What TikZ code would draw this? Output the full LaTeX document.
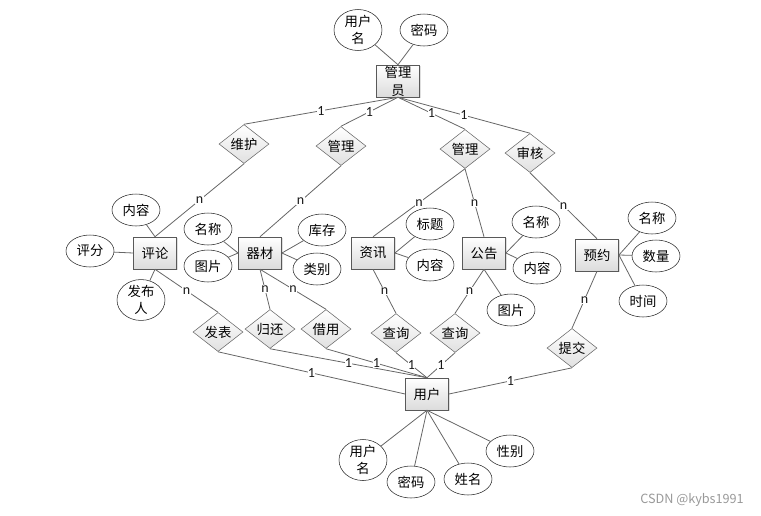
\documentclass[tikz,border=0pt]{standalone}
\usepackage{fontspec}
\setmainfont{Noto Sans CJK SC}
\newfontfamily\numfont{Carlito}
\usetikzlibrary{shapes.geometric,shadows,positioning}

\begin{document}
\begin{tikzpicture}[x=0.75pt, y=-0.75pt,
  entity/.style={rectangle, draw=black!65, top color=white, bottom color=black!14,
                 drop shadow={shadow xshift=1pt, shadow yshift=-1pt, opacity=0.25},
                 minimum width=32.5pt, minimum height=24pt, inner sep=0pt,
                 align=center, font=\fontsize{10}{13.5}\selectfont},
  attr/.style={ellipse, draw=black!85, fill=white, minimum width=36pt,
               minimum height=24pt, inner sep=0pt, align=center,
               font=\fontsize{10}{12.5}\selectfont},
  rel/.style={diamond, draw=black!60, top color=white, bottom color=black!12,
              minimum width=37.5pt, minimum height=22.5pt, inner sep=0pt,
              font=\fontsize{10}{12}\selectfont},
  link/.style={black!60, line width=0.6pt},
  card/.style={fill=white, inner sep=0.3pt, text=black!90,
               font=\numfont\fontsize{10.5}{11}\selectfont}
]
  \useasboundingbox (0,0) rectangle (761,515);

  % entities
  \node[entity] (gly) at (398,81)  {管理\\员};
  \node[entity] (pl)  at (155,253) {评论};
  \node[entity] (qc)  at (260,253) {器材};
  \node[entity] (zx)  at (373,253) {资讯};
  \node[entity] (gg)  at (484,253) {公告};
  \node[entity] (yy)  at (597,255) {预约};
  \node[entity] (yh)  at (427,394) {用户};

  % relations
  \node[rel] (wh)  at (244,144) {维护};
  \node[rel] (glA) at (341,146) {管理};
  \node[rel] (glB) at (465,149) {管理};
  \node[rel] (sh)  at (530,153) {审核};
  \node[rel] (fb)  at (218,332) {发表};
  \node[rel] (gh)  at (270,329) {归还};
  \node[rel] (jy)  at (326,329) {借用};
  \node[rel] (cxA) at (396,333) {查询};
  \node[rel] (cxB) at (455,333) {查询};
  \node[rel] (tj)  at (572,348) {提交};

  % attributes
  \node[attr] (gly-yhm) at (358,30)  {用户\\名};
  \node[attr] (gly-mm)  at (424,30)  {密码};
  \node[attr] (pl-nr)   at (136,210) {内容};
  \node[attr] (pl-pf)   at (90,251)  {评分};
  \node[attr] (pl-fbr)  at (141,300) {发布\\人};
  \node[attr] (qc-mc)   at (208,229) {名称};
  \node[attr] (qc-tp)   at (208,266) {图片};
  \node[attr] (qc-kc)   at (322,230) {库存};
  \node[attr] (qc-lb)   at (317,269) {类别};
  \node[attr] (zx-bt)   at (430,224) {标题};
  \node[attr] (zx-nr)   at (430,265) {内容};
  \node[attr] (gg-mc)   at (536,222) {名称};
  \node[attr] (gg-nr)   at (537,268) {内容};
  \node[attr] (gg-tp)   at (511,310) {图片};
  \node[attr] (yy-mc)   at (652,218) {名称};
  \node[attr] (yy-sl)   at (656,256) {数量};
  \node[attr] (yy-sj)   at (643,301) {时间};
  \node[attr] (yh-yhm)  at (363,460) {用户\\名};
  \node[attr] (yh-mm)   at (411,482) {密码};
  \node[attr] (yh-xm)   at (468,479) {姓名};
  \node[attr] (yh-xb)   at (510,451) {性别};

  \foreach \a/\e in {gly-yhm/gly.north, gly-mm/gly.north,
                     pl-nr/pl.north, pl-pf/pl.west, pl-fbr/pl.south,
                     qc-mc/qc.west, qc-tp/qc.west, qc-kc/qc.east, qc-lb/qc.east,
                     zx-bt/zx.east, zx-nr/zx.east,
                     gg-mc/gg.east, gg-nr/gg.east, gg-tp/gg.south,
                     yy-mc/yy.east, yy-sl/yy.east, yy-sj/yy.east,
                     yh-yhm/yh.south, yh-mm/yh.south, yh-xm/yh.south, yh-xb/yh.south}
    \draw[link] (\a) -- (\e);

  % administrator side
  \foreach \r in {wh, glA, glB, sh}
    \draw[link] (gly.south) -- node[card] {1} (\r.north);
  \draw[link] (wh.south)  -- node[card] {n} (pl.north);
  \draw[link] (glA.south) -- node[card] {n} (qc.north);
  \draw[link] (glB.south) -- node[card] {n} (zx.north);
  \draw[link] (glB.south) -- node[card] {n} (gg.north);
  \draw[link] (sh.south)  -- node[card] {n} (yy.north);

  % user side
  \draw[link] (pl.south) -- node[card] {n} (fb.north);
  \draw[link] (qc.south) -- node[card] {n} (gh.north);
  \draw[link] (qc.south) -- node[card] {n} (jy.north);
  \draw[link] (zx.south) -- node[card] {n} (cxA.north);
  \draw[link] (gg.south) -- node[card] {n} (cxB.north);
  \draw[link] (yy.south) -- node[card] {n} (tj.north);
  \draw[link] (fb.south) -- node[card] {1} (yh.west);
  \foreach \r in {gh, jy, cxA, cxB}
    \draw[link] (\r.south) -- node[card] {1} (yh.north);
  \draw[link] (tj.south) -- node[card] {1} (yh.east);

  \node[text=black!40, font=\fontsize{9.5}{11}\selectfont] (wm) at (692,500) {CSDN @kybs1991};
\end{tikzpicture}
\end{document}
